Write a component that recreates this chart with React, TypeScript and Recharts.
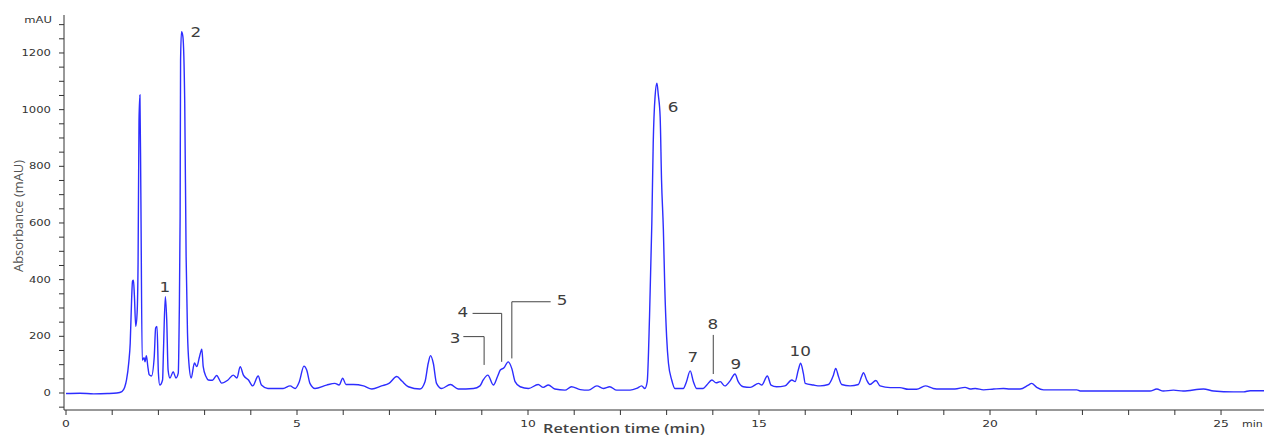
import React from 'react';
import { LineChart, Line, XAxis, YAxis, ReferenceLine, ReferenceDot, Label } from 'recharts';

// Retention time (min) of each sampled point of the chromatogram trace
const retentionTimes = [
  0, 0.3, 0.6, 0.9, 1.1, 1.21, 1.27, 1.31, 1.36, 1.39, 1.42, 1.44, 1.46, 1.48, 1.51, 1.54, 1.56, 1.58, 1.6, 1.62,
  1.65, 1.69, 1.71, 1.74, 1.77, 1.8, 1.85, 1.91, 1.94, 1.97, 2.0, 2.03, 2.09, 2.11, 2.15, 2.18, 2.21, 2.25, 2.32, 2.38,
  2.43, 2.45, 2.47, 2.48, 2.5, 2.53, 2.57, 2.6, 2.63, 2.66, 2.71, 2.78, 2.83, 2.89, 2.94, 2.97, 3.03, 3.08, 3.17, 3.26,
  3.37, 3.5, 3.62, 3.7, 3.77, 3.84, 3.95, 4.04, 4.16, 4.23, 4.37, 4.7, 4.85, 4.96, 5.05, 5.15, 5.21, 5.28, 5.39, 5.64,
  5.82, 5.91, 5.99, 6.06, 6.22, 6.44, 6.62, 6.83, 6.99, 7.16, 7.27, 7.41, 7.66, 7.77, 7.84, 7.89, 7.95, 8.02, 8.13, 8.32,
  8.49, 8.82, 8.96, 9.03, 9.13, 9.25, 9.34, 9.4, 9.48, 9.57, 9.65, 9.72, 9.83, 10.01, 10.22, 10.33, 10.44, 10.58, 10.8, 10.94,
  11.13, 11.31, 11.49, 11.63, 11.77, 11.92, 12.21, 12.35, 12.46, 12.53, 12.58, 12.63, 12.68, 12.71, 12.75, 12.79, 12.82, 12.86, 12.89, 12.93,
  12.96, 13.0, 13.04, 13.11, 13.18, 13.36, 13.43, 13.51, 13.58, 13.65, 13.79, 13.87, 13.98, 14.07, 14.16, 14.26, 14.37, 14.48, 14.55, 14.66,
  14.81, 14.99, 15.06, 15.18, 15.26, 15.38, 15.56, 15.71, 15.78, 15.85, 15.9, 15.96, 16.0, 16.18, 16.32, 16.5, 16.61, 16.66, 16.72, 16.79,
  16.97, 17.15, 17.22, 17.26, 17.33, 17.4, 17.53, 17.62, 17.84, 18.05, 18.23, 18.41, 18.6, 18.77, 18.92, 19.07, 19.24, 19.46, 19.57, 19.68,
  19.86, 20.08, 20.29, 20.43, 20.65, 20.83, 20.9, 21.01, 21.16, 21.88, 21.95, 23.46, 23.61, 23.75, 23.97, 24.18, 24.62, 24.84, 25.27, 25.49,
  25.63, 25.93,
];

// Absorbance (mAU) at each retention time above
const absorbanceValues = [
  -2, -1, -3, -2, 0, 5, 20, 46, 110, 176, 330, 395, 398, 345, 235, 285, 460, 960, 1052, 706,
  116, 125, 110, 132, 95, 65, 60, 128, 229, 235, 70, 28, 46, 152, 340, 258, 81, 53, 75, 53,
  70, 258, 622, 1175, 1275, 1258, 1023, 481, 211, 106, 53, 106, 93, 128, 155, 93, 58, 46, 45, 62,
  35, 45, 63, 53, 93, 63, 46, 25, 60, 28, 16, 16, 25, 16, 40, 95, 81, 34, 16, 28,
  34, 28, 52, 30, 30, 25, 14, 25, 34, 58, 42, 22, 14, 40, 105, 132, 105, 34, 16, 30,
  14, 16, 25, 46, 63, 28, 58, 81, 89, 110, 86, 40, 22, 16, 30, 20, 28, 14, 10, 22,
  12, 10, 25, 16, 22, 10, 10, 16, 25, 16, 40, 269, 600, 881, 1046, 1093, 1052, 975, 752, 575,
  375, 199, 105, 46, 16, 16, 40, 78, 40, 16, 16, 28, 46, 36, 40, 25, 42, 67, 40, 22,
  20, 34, 28, 60, 28, 22, 25, 46, 40, 81, 105, 69, 34, 28, 25, 30, 63, 87, 58, 30,
  25, 30, 58, 72, 46, 30, 44, 25, 19, 19, 13, 13, 25, 16, 14, 14, 14, 20, 14, 16,
  11, 14, 16, 14, 14, 28, 34, 20, 11, 11, 7, 7, 14, 7, 10, 7, 14, 7, 4, 4,
  8, 8,
];

const xTicks = [0, 1, 2, 3, 4, 5, 6, 7, 8, 9, 10, 11, 12, 13, 14, 15, 16, 17, 18, 19, 20, 21, 22, 23, 24, 25];
const xTickLabels = [0, 5, 10, 15, 20, 25];
const yTicks = [-50, 0, 50, 100, 150, 200, 250, 300, 350, 400, 450, 500, 550, 600, 650, 700, 750, 800, 850, 900, 950, 1000, 1050, 1100, 1150, 1200, 1250, 1300];
const yTickLabels = [0, 200, 400, 600, 800, 1000, 1200];

// Peak annotations: label text, label position in (time, mAU)
const peakNames = ['1', '2', '3', '4', '5', '6', '7', '8', '9', '10'];
const peakLabelTimes = [2.14, 2.81, 8.42, 8.59, 10.74, 13.14, 13.57, 14.0, 14.5, 15.89];
const peakLabelValues = [374, 1274, 194, 286, 328, 1010, 127, 244, 102, 148];

// Leader lines for peaks 3, 4, 5 and 8: [t1, v1, t2, v2]
const leaderSegments = [
  [8.6, 199, 9.05, 199], [9.05, 199, 9.05, 99],
  [8.8, 281, 9.43, 281], [9.43, 281, 9.43, 110],
  [9.65, 322, 10.49, 322], [9.65, 322, 9.65, 122],
  [14.01, 205, 14.01, 67],
];

const trace = retentionTimes.map((t, i) => ({ t, v: absorbanceValues[i] }));

const AXIS = '#333';
const TICK_FONT = 'DejaVu Sans';

const XTick = (props: any) => {
  const { x, y, payload } = props;
  if (!xTickLabels.includes(payload.value)) return <g />;
  return (
    <text transform={`translate(${x},${y + 10}) scale(1.45,1)`} textAnchor="middle" fontSize={8.5} fontFamily={TICK_FONT} fill="#333">
      {payload.value}
    </text>
  );
};

const YTick = (props: any) => {
  const { x, y, payload } = props;
  if (!yTickLabels.includes(payload.value)) return <g />;
  return (
    <text transform={`translate(${x - 6},${y}) scale(1.45,1)`} textAnchor="end" dy="0.36em" fontSize={8} fontFamily={TICK_FONT} fill="#333">
      {payload.value}
    </text>
  );
};

const YTitle = (props: any) => {
  const vb = props.viewBox || { x: 0, y: 15, width: 64, height: 395 };
  const cx = vb.x + 19;
  const cy = vb.y + 201;
  return (
    <g>
      <text x={cx} y={cy} transform={`rotate(-90, ${cx}, ${cy})`} textAnchor="middle" dy="0.35em" fontSize={12.5}
        fontFamily="Open Sans" fill="#555" textLength={112} lengthAdjust="spacingAndGlyphs">
        Absorbance (mAU)
      </text>
      <text transform={`translate(${vb.x + 52},${vb.y + 5}) scale(1.45,1)`} textAnchor="end" dy="0.36em" fontSize={8}
        fontFamily={TICK_FONT} fill="#333">
        mAU
      </text>
    </g>
  );
};

const XTitle = (props: any) => {
  const vb = props.viewBox || { x: 64, y: 410, width: 1200, height: 27 };
  return (
    <g>
      <text x={vb.x + 479} y={vb.y + 23} fontSize={12.5} fontWeight={600} fontFamily="Open Sans" fill="#444"
        textLength={162} lengthAdjust="spacingAndGlyphs">
        Retention time (min)
      </text>
      <text transform={`translate(${vb.x + 1178},${vb.y + 17}) scale(1.3,1)`} textAnchor="start" fontSize={8.5}
        fontFamily={TICK_FONT} fill="#333">
        min
      </text>
    </g>
  );
};

const PeakText = (name: string) => (p: any) => (
  <text transform={`translate(${p.cx},${p.cy}) scale(1.2,1)`} textAnchor="middle" dy="0.36em" fontSize={14}
    fontFamily="DejaVu Sans" fill="#3d3d3d">
    {name}
  </text>
);

export default function App() {
  return (
    <div style={{ position: 'absolute', left: 0, top: 0, width: 1264, height: 437, background: '#fff' }}>
      <LineChart width={1264} height={437} data={trace} margin={{ top: 15, right: 0, bottom: 0, left: 0 }}>
        <XAxis
          type="number"
          dataKey="t"
          domain={[0, 25.93]}
          ticks={xTicks}
          interval={0}
          allowDataOverflow
          padding={{ left: 2, right: 0 }}
          height={27}
          tickSize={5}
          tickMargin={2}
          stroke={AXIS}
          tickLine={{ stroke: AXIS }}
          axisLine={{ stroke: AXIS }}
          tick={<XTick />}
        >
          <Label content={<XTitle />} />
        </XAxis>
        <YAxis
          type="number"
          domain={[-60, 1334]}
          ticks={yTicks}
          interval={0}
          allowDataOverflow
          width={64}
          tickSize={5}
          tickMargin={2}
          stroke={AXIS}
          tickLine={{ stroke: AXIS }}
          axisLine={{ stroke: AXIS }}
          tick={<YTick />}
        >
          <Label content={<YTitle />} />
        </YAxis>
        <Line type="monotone" dataKey="v" stroke="#2d2dff" strokeWidth={1.4} dot={false} isAnimationActive={false} />
        {leaderSegments.map((s, i) => (
          <ReferenceLine key={'seg' + i} segment={[{ x: s[0], y: s[1] }, { x: s[2], y: s[3] }]} stroke="#444" strokeWidth={1} ifOverflow="visible" />
        ))}
        {peakNames.map((n, i) => (
          <ReferenceDot key={'pk' + n} x={peakLabelTimes[i]} y={peakLabelValues[i]} r={0} ifOverflow="visible" shape={PeakText(n)} />
        ))}
      </LineChart>
    </div>
  );
}
